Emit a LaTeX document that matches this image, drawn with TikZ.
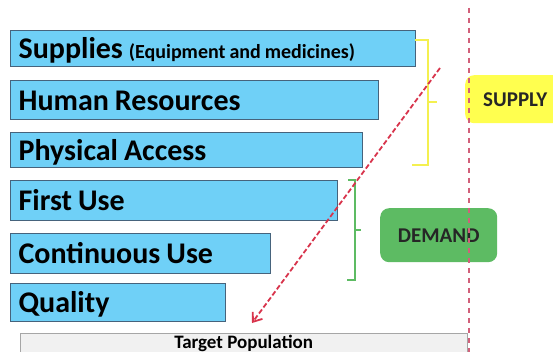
\documentclass[tikz,border=0pt]{standalone}
\usepackage{fontspec}
\setmainfont{Carlito}
\usetikzlibrary{arrows.meta}

\definecolor{barblue}{HTML}{6FD0F7}
\definecolor{barline}{HTML}{46637C}
\definecolor{supyellow}{HTML}{FFFF4F}
\definecolor{braceyellow}{HTML}{F4F050}
\definecolor{demgreen}{HTML}{5DBB63}
\definecolor{dashred}{HTML}{D8344C}
\definecolor{divpink}{HTML}{D2607A}
\definecolor{tpgray}{HTML}{F1F1F1}

\begin{document}
\begin{tikzpicture}[x=1pt, y=-1pt,
  bar/.style={draw=barline, line width=1.2pt, fill=barblue, anchor=north west, inner xsep=8pt, inner ysep=0pt, align=left,
    font=\fontsize{30}{30}\selectfont\bfseries, text height=20pt, text depth=0pt,
    execute at begin node={\spaceskip=0.2em\relax}},
  tag/.style={rounded corners=9pt, anchor=north west, font=\fontsize{21}{21}\selectfont\bfseries, text=black!85},
  bracket/.style={line width=1.4pt}]

\useasboundingbox (0,0) rectangle (553,352);
\clip (0,0) rectangle (553,352);

% factor bars
\foreach \nm/\by/\bw/\bh/\txt in {sup/30/405/36/{Supplies {\fontsize{20}{20}\selectfont\spaceskip=0.2em (Equipment and medicines)}},
    hr/80/368/39/Human Resources, pa/132/352/35/Physical Access, fu/180/327/40/First Use,
    cu/233/260/40/Continuous Use, qu/283/215/38/Quality}
{
  \pgfmathsetmacro\tw{\bw-16}
  \node[bar, text width=\tw pt, minimum height=\bh pt] (\nm) at (10,\by) {\txt};
}

\node[draw=gray!70, fill=tpgray, anchor=north west, minimum width=447pt, inner ysep=3pt,
  text height=12pt, text depth=4pt, font=\fontsize{19}{19}\selectfont\bfseries] (tp) at (20,333) {Target Population};

% supply / demand tags
\node[tag, fill=supyellow, minimum width=100pt, minimum height=48pt] (supply) at (465,75) {SUPPLY};
\node[tag, fill=demgreen, minimum width=117pt, minimum height=54pt] (demand) at (380,208) {DEMAND};

% brackets
\draw[bracket, braceyellow] (415,40) -- (428,40) -- (428,165) -- (412,165);
\draw[bracket, braceyellow] (428,102) -- (437,102);
\draw[bracket, demgreen] (348,180) -- (355,180) -- (355,280) -- (347,280);
\draw[bracket, demgreen] (355,230) -- (361,230);

% divider and arrow
\draw[divpink, line width=1.3pt, dash pattern=on 5pt off 5pt] (469,8) -- (469,352);
\coordinate (atop) at (440,68);
\coordinate (atip) at (252,323);
\draw[dashred, line width=1.8pt, dash pattern=on 5pt off 2.5pt, -{Straight Barb[length=8pt,width=12pt]}] (atop) -- (atip);

\end{tikzpicture}
\end{document}
